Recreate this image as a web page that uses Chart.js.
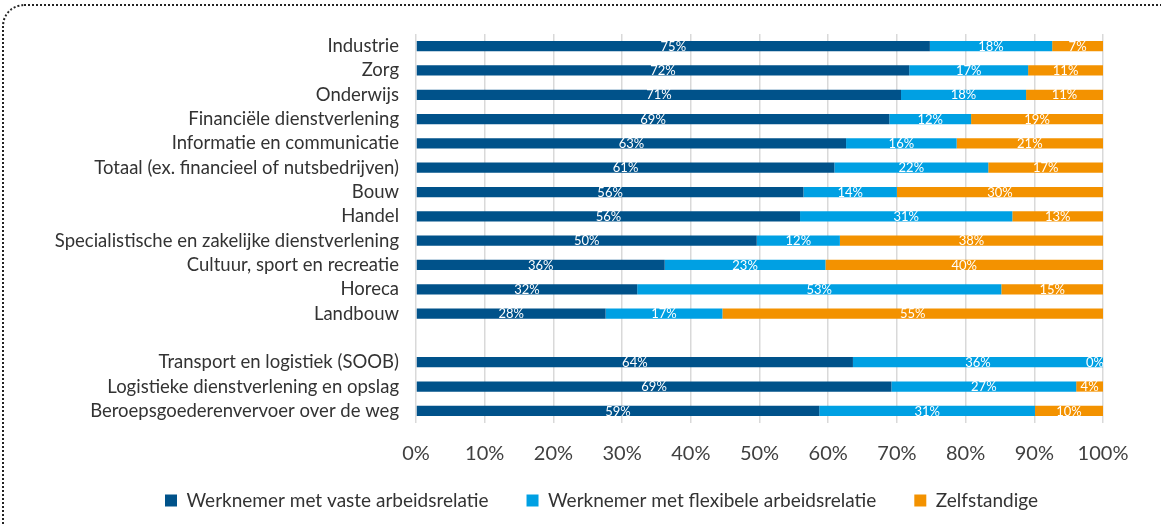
<!DOCTYPE html>
<html>
<head>
<meta charset="utf-8">
<script src="https://cdn.jsdelivr.net/npm/chart.js@4.4.1/dist/chart.umd.min.js"></script>
<style>
  html, body { margin: 0; padding: 0; background: #fff; }
  #wrap { position: relative; width: 1161px; height: 526px; overflow: hidden; }
  #frame { position: absolute; left: 2px; top: 4px; width: 1300px; height: 700px;
           border-top: 2px dotted #222; border-left: 2px dotted #222; border-top-left-radius: 22px; }
  #c { position: absolute; left: 0; top: 0; }
</style>
</head>
<body>
<div id="wrap">
  <div id="frame"></div>
  <canvas id="c" width="1161" height="526"></canvas>
</div>
<script>
const categories = [
  'Industrie', 'Zorg', 'Onderwijs', 'Financiële dienstverlening', 'Informatie en communicatie',
  'Totaal (ex. financieel of nutsbedrijven)', 'Bouw', 'Handel',
  'Specialistische en zakelijke dienstverlening', 'Cultuur, sport en recreatie', 'Horeca', 'Landbouw',
  '', 'Transport en logistiek (SOOB)', 'Logistieke dienstverlening en opslag',
  'Beroepsgoederenvervoer over de weg'
];
const seriesNames = ['Werknemer met vaste arbeidsrelatie', 'Werknemer met flexibele arbeidsrelatie', 'Zelfstandige'];
const vast = [74.8, 71.8, 70.6, 68.9, 62.6, 60.9, 56.4, 55.9, 49.6, 36.2, 32.2, 27.6, null, 63.6, 69.2, 58.7];
const flexibel = [17.8, 17.3, 18.2, 11.9, 16.1, 22.4, 13.6, 30.9, 12.1, 23.4, 53.0, 17.0, null, 36.4, 26.9, 31.4];
const zelfstandig = [7.4, 10.9, 11.2, 19.2, 21.3, 16.7, 30.0, 13.2, 38.3, 40.4, 14.8, 55.4, null, 0, 3.9, 9.9];
const xTicks = [0, 10, 20, 30, 40, 50, 60, 70, 80, 90, 100];

const colors = ['#00528A', '#00A0E3', '#F39200'];
const FONT = 'Lato, "Liberation Sans", sans-serif';

const labelPlugin = {
  id: 'segLabels',
  afterDatasetsDraw(chart) {
    const ctx = chart.ctx;
    ctx.save();
    ctx.fillStyle = '#ffffff';
    ctx.font = '13px ' + FONT;
    ctx.textAlign = 'center';
    ctx.textBaseline = 'middle';
    chart.data.datasets.forEach((ds, di) => {
      const meta = chart.getDatasetMeta(di);
      meta.data.forEach((el, i) => {
        const v = ds.data[i];
        if (v === null || v === undefined) return;
        let cx = (el.x + el.base) / 2;
        const txt = Math.round(v) + '%';
        const w = ctx.measureText(txt).width;
        if (cx + w / 2 > chart.chartArea.right + 1) cx = chart.chartArea.right + 1 - w / 2;
        ctx.fillText(txt, cx, el.y + 0.5);
      });
    });
    ctx.restore();
  }
};

// move the legend row up/right to its place under the axis
const legendShift = {
  id: 'legendShift',
  afterLayout(chart) {
    const lg = chart.legend;
    if (!lg) return;
    const dy = -15, dx = 50;
    lg.top += dy; lg.bottom += dy;
    lg.left += dx; lg.right += dx;
  }
};

const data = {
  labels: categories,
  datasets: [vast, flexibel, zelfstandig].map((d, i) => ({
    label: seriesNames[i],
    data: d,
    backgroundColor: colors[i],
    borderWidth: 0,
    barPercentage: 0.42,
    categoryPercentage: 1
  }))
};

new Chart(document.getElementById('c'), {
  type: 'bar',
  data,
  plugins: [labelPlugin, legendShift],
  options: {
    indexAxis: 'y',
    responsive: false,
    animation: false,
    devicePixelRatio: 1,
    layout: { padding: { left: 0, right: 58, top: 34, bottom: -9 } },
    scales: {
      x: {
        stacked: true,
        min: 0, max: 100,
        afterBuildTicks(scale) { scale.ticks = xTicks.map(v => ({ value: v })); },
        afterFit(scale) { scale.height = 45; },
        grid: { color: '#d9d9d9', lineWidth: 1.5, drawTicks: false },
        border: { display: false },
        ticks: { padding: 19, color: '#404040', font: { family: FONT, size: 20 }, callback: v => v + '%' }
      },
      y: {
        stacked: true,
        afterFit(scale) { scale.width = 416; },
        grid: { display: false, drawTicks: false },
        border: { display: false },
        ticks: { padding: 17, color: '#333333', font: { family: FONT, size: 18.5 }, autoSkip: false }
      }
    },
    plugins: {
      legend: {
        position: 'bottom',
        labels: { boxWidth: 12, boxHeight: 12, padding: 38, color: '#333333', font: { family: FONT, size: 19 } }
      },
      tooltip: { enabled: false }
    }
  }
});
</script>
</body>
</html>
